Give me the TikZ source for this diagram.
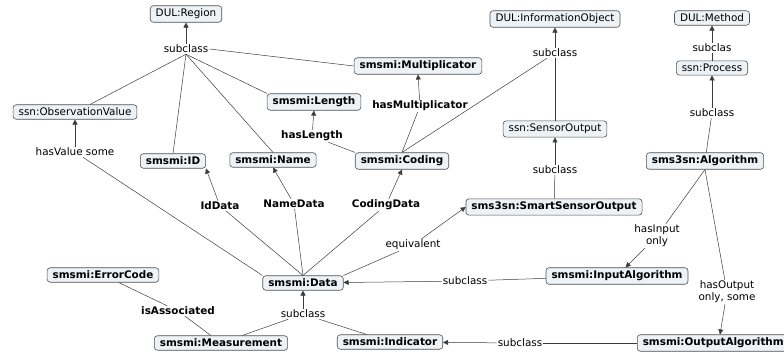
\documentclass[tikz,border=0pt]{standalone}
\usepackage{fontspec}
\setmainfont{DejaVu Sans}
\usetikzlibrary{arrows.meta}
\definecolor{boxfill}{RGB}{236,242,246}
\definecolor{boxline}{RGB}{80,80,80}
\definecolor{edgec}{RGB}{60,60,60}
\tikzset{
  cls/.style={draw=boxline, fill=boxfill, rounded corners=3pt, line width=0.6pt,
    inner xsep=5.5pt, inner ysep=3.2pt, font=\fontsize{10.4}{12}\selectfont},
  bcls/.style={cls, font=\fontsize{10.4}{12}\selectfont\bfseries},
  lbl/.style={inner sep=1pt, font=\fontsize{10.4}{12}\selectfont, align=center},
  blbl/.style={lbl, font=\fontsize{10.4}{12}\selectfont\bfseries},
  edge/.style={draw=edgec, line width=0.5pt},
  arr/.style={edge, -{Triangle[length=5pt,width=5pt]}},
}
\begin{document}
\begin{tikzpicture}[x=1pt,y=-1pt]
\useasboundingbox (0,0) rectangle (784,353);
\clip (0,0) rectangle (784,353);
% nodes
\node[cls] (region) at (186,14) {DUL:Region};
\node[lbl] (sc1) at (186,49) {subclass};
\node[cls] (obs) at (75,112) {ssn:ObservationValue};
\node[lbl] (hv) at (75,152) {hasValue some};
\node[bcls] (id) at (173,161) {smsmi:ID};
\node[bcls] (name) at (273,160) {smsmi:Name};
\node[bcls] (mult) at (418,66) {smsmi:Multiplicator};
\node[bcls] (len) at (314,102) {smsmi:Length};
\node[blbl] (hm) at (420,106) {hasMultiplicator};
\node[blbl] (hl) at (312,136) {hasLength};
\node[bcls] (coding) at (402,161) {smsmi:Coding};
\node[cls] (info) at (555,19) {DUL:InformationObject};
\node[lbl] (sc2) at (555,53) {subclass};
\node[cls] (sout) at (555,129) {ssn:SensorOutput};
\node[lbl] (sc3) at (555,170) {subclass};
\node[bcls] (smart) at (554,207) {sms3sn:SmartSensorOutput};
\node[cls] (method) at (712,18) {DUL:Method};
\node[lbl] (sc4) at (712,48) {subclas};
\node[cls] (proc) at (712,68) {ssn:Process};
\node[lbl] (sc5) at (712,113) {subclass};
\node[bcls] (alg) at (705,161) {sms3sn:Algorithm};
\node[lbl] (hi) at (657,236) {hasInput\\only};
\node[bcls] (inalg) at (617,276) {smsmi:InputAlgorithm};
\node[lbl] (ho) at (727,292) {hasOutput\\only, some};
\node[bcls, anchor=west] (outalg) at (637,343) {smsmi:OutputAlgorithm};
\node[bcls] (data) at (303,283) {smsmi:Data};
\node[blbl] (idd) at (220,206) {IdData};
\node[blbl] (nd) at (294,204) {NameData};
\node[blbl] (cd) at (386,205) {CodingData};
\node[lbl] (eq) at (413,245) {equivalent};
\node[lbl] (sc6) at (465,281) {subclass};
\node[lbl] (sc7) at (303,314) {subclass};
\node[bcls] (err) at (103,275) {smsmi:ErrorCode};
\node[blbl] (ia) at (178,311) {isAssociated};
\node[bcls] (meas) at (221,343) {smsmi:Measurement};
\node[bcls] (ind) at (390,342) {smsmi:Indicator};
\node[lbl] (sc8) at (520,343) {subclass};
% edges
\draw[arr] (sc1) -- (region);
\draw[edge] (sc1.south) -- (obs.north -| 90,0);
\draw[edge] (sc1.south) -- (id.north);
\draw[edge] (sc1.south) -- (name.north);
\draw[edge] (sc1.south) -- (len.north west);
\draw[edge] (sc1.east) -- (mult.west);
\draw[edge] (data.north west) -- (hv);
\draw[arr] (hv) -- (obs);
\draw[edge] (data.north) -- (idd);
\draw[arr] (idd) -- (id.south east);
\draw[edge] (data.north) -- (nd);
\draw[arr] (nd) -- (name.south);
\draw[edge] (data.north) -- (cd);
\draw[arr] (cd) -- (coding.south);
\draw[edge] (coding.north west) -- (hl);
\draw[arr] (hl) -- (len.south);
\draw[edge] (coding.north) -- (hm);
\draw[arr] (hm) -- (mult.south);
\draw[edge] (coding.north) -- (sc2);
\draw[arr] (sc2) -- (info);
\draw[edge] (sout) -- (sc2);
\draw[edge] (smart) -- (sc3);
\draw[arr] (sc3) -- (sout);
\draw[edge] (data.north east) -- (eq);
\draw[arr] (eq) -- (smart.west);
\draw[arr] (sc4) -- (method);
\draw[edge] (proc) -- (sc4);
\draw[edge] (alg) -- (sc5);
\draw[arr] (sc5) -- (proc);
\draw[edge] (alg.south) -- (hi);
\draw[arr] (hi) -- (inalg);
\draw[edge] (alg.south) -- (ho);
\draw[arr] (ho) -- (outalg.north west -| 720,0);
\draw[edge] (inalg) -- (sc6);
\draw[arr] (sc6) -- (data);
\draw[edge] (meas) -- (sc7);
\draw[edge] (ind) -- (sc7);
\draw[arr] (sc7) -- (data);
\draw[edge] (outalg) -- (sc8);
\draw[arr] (sc8) -- (ind);
\draw[edge] (err) -- (ia);
\draw[edge] (ia) -- (meas);
\end{tikzpicture}
\end{document}
